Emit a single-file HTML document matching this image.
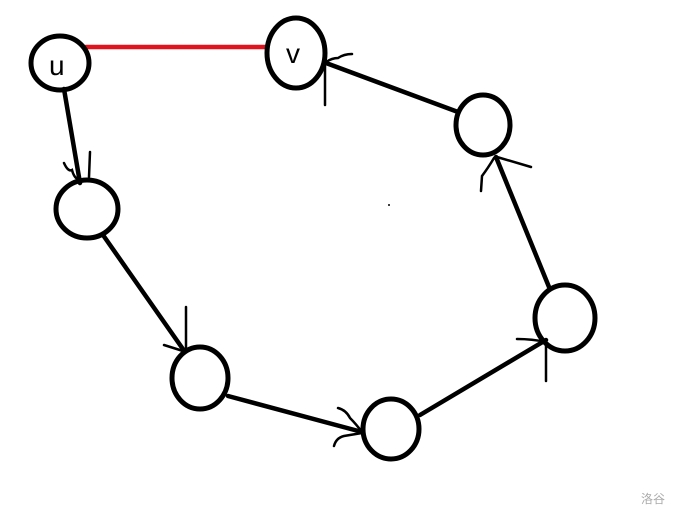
<!DOCTYPE html>
<html><head><style>html,body{margin:0;padding:0;background:#fff;width:681px;height:519px;overflow:hidden}</style></head>
<body>
<svg width="681" height="519" viewBox="0 0 681 519" xmlns="http://www.w3.org/2000/svg">
<g fill="none" stroke="#000" stroke-width="4.5" stroke-linecap="round">
<line x1="86" y1="47" x2="266" y2="47" stroke="#e0141e" stroke-width="4.5"/>
<line x1="64" y1="89" x2="80" y2="183"/>
<line x1="103" y1="235" x2="185" y2="352"/>
<line x1="228" y1="396" x2="362" y2="432"/>
<line x1="420" y1="415" x2="546" y2="340"/>
<line x1="549" y1="287" x2="496" y2="157"/>
<line x1="458" y1="112" x2="326" y2="63"/>
</g>
<g fill="none" stroke="#000" stroke-width="5">
<ellipse cx="60" cy="63" rx="29" ry="27"/>
<ellipse cx="296" cy="53" rx="29" ry="35"/>
<ellipse cx="87" cy="209" rx="31" ry="29"/>
<ellipse cx="200" cy="378" rx="28" ry="31"/>
<ellipse cx="391" cy="429" rx="28" ry="30"/>
<ellipse cx="565" cy="318" rx="30" ry="33"/>
<ellipse cx="483" cy="125" rx="27" ry="30"/>
</g>
<g fill="none" stroke="#000" stroke-width="2.5" stroke-linecap="round">
<path d="M90 152 L89 177"/>
<path d="M64 163 Q68 172 72 170 Q74 178 79 180"/>
<path d="M186 307 L186 350"/>
<path d="M164 345 L183 351"/>
<path d="M338 408 Q346 410 350 418 Q356 424 362 432"/>
<path d="M334 446 Q336 438 344 436 L362 433"/>
<path d="M546 341 L546 381"/>
<path d="M517 339 Q532 339 546 342"/>
<path d="M494 158 Q488 168 482 176 L481 191"/>
<path d="M497 157 L531 167"/>
<path d="M325 64 L325 105"/>
<path d="M326 62 Q332 58 338 58 Q344 54 352 54"/>
</g>
<text x="49" y="75" font-family="Liberation Sans, sans-serif" font-size="28">u</text>
<text x="286" y="63" font-family="Liberation Sans, sans-serif" font-size="28">v</text>
<circle cx="389" cy="205" r="1" fill="#000"/>
<text x="641" y="503" font-family="Liberation Sans, 'Noto Sans CJK SC', sans-serif" font-size="12" fill="#aaa">洛谷</text>
</svg>
</body></html>
